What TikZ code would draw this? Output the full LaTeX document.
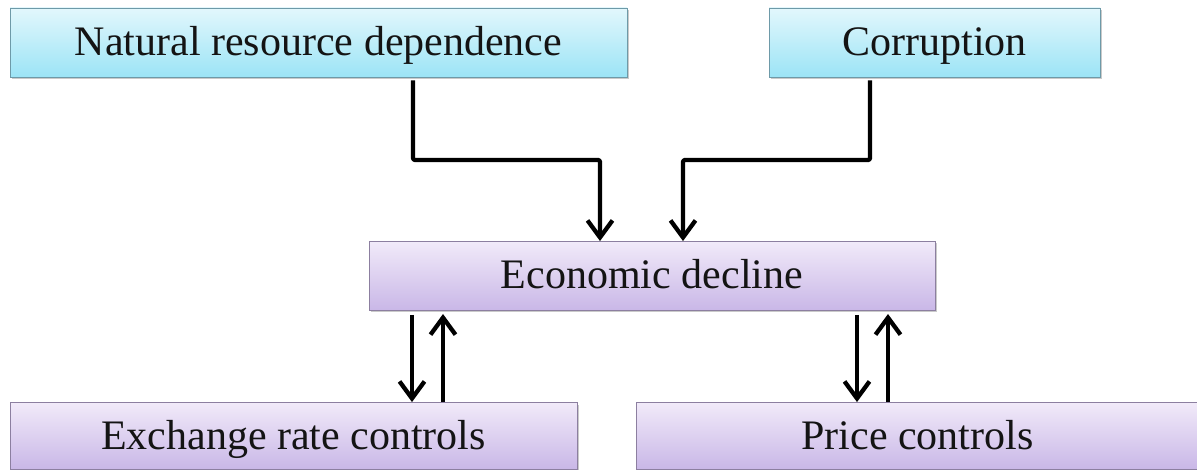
\documentclass[tikz,border=0pt]{standalone}
\usepackage{fontspec}
\setmainfont{Liberation Serif}
\usetikzlibrary{arrows.meta,shadows}
\definecolor{cyanTop}{HTML}{E2F7FC}
\definecolor{cyanBot}{HTML}{9CE4F6}
\definecolor{cyanLine}{HTML}{6E9AA8}
\definecolor{lilacTop}{HTML}{F1EAF9}
\definecolor{lilacBot}{HTML}{C9B7E7}
\definecolor{lilacLine}{HTML}{8C7FA0}
\begin{document}
\begin{tikzpicture}[x=1pt,y=-1pt,
  box/.style={rectangle, inner sep=0pt, minimum height=69pt,
    text height=30pt, text depth=4pt,
    font=\fontsize{42}{48}\selectfont, text=black!92,
    drop shadow={shadow xshift=1.5pt, shadow yshift=-2pt, opacity=0.35, fill=black!60}},
  cause/.style={box, draw=cyanLine, line width=0.9pt, top color=cyanTop, bottom color=cyanBot},
  effect/.style={box, draw=lilacLine, line width=0.9pt, top color=lilacTop, bottom color=lilacBot},
  link/.style={line width=4.3pt, rounded corners=2pt, line join=round,
    -{Straight Barb[length=17pt,width=25pt,line width=4.3pt]}}]
  \useasboundingbox (0,0) rectangle (1197,470);

  % source factors
  \node[cause, minimum width=617pt] (nrd) at (318.5,42.5) {Natural resource dependence};
  \node[cause, minimum width=331pt] (cor) at (934.5,42.5) {Corruption};

  % central outcome
  \node[effect, minimum width=566pt] (eco) at (652,276) {Economic decline};

  % policy responses
  \node[effect, minimum width=567pt, minimum height=67pt] (exr) at (293.5,436) {Exchange rate controls};
  \node[effect, minimum width=563pt, minimum height=67pt] (prc) at (917.5,436) {Price controls};

  % factors feeding the decline
  \draw[link] (413,0 |- nrd.south) ++(0,3) -- (413,160) -- (600,160) -- (600,0 |- eco.north);
  \draw[link] (870,0 |- cor.south) ++(0,3) -- (870,160) -- (683,160) -- (683,0 |- eco.north);

  % two-way links with the controls
  \draw[link] (412,0 |- eco.south) ++(0,4) -- (412,0 |- exr.north);
  \draw[link] (443,0 |- exr.north) -- (443,314);
  \draw[link] (857,0 |- eco.south) ++(0,4) -- (857,0 |- prc.north);
  \draw[link] (888,0 |- prc.north) -- (888,314);
\end{tikzpicture}
\end{document}
